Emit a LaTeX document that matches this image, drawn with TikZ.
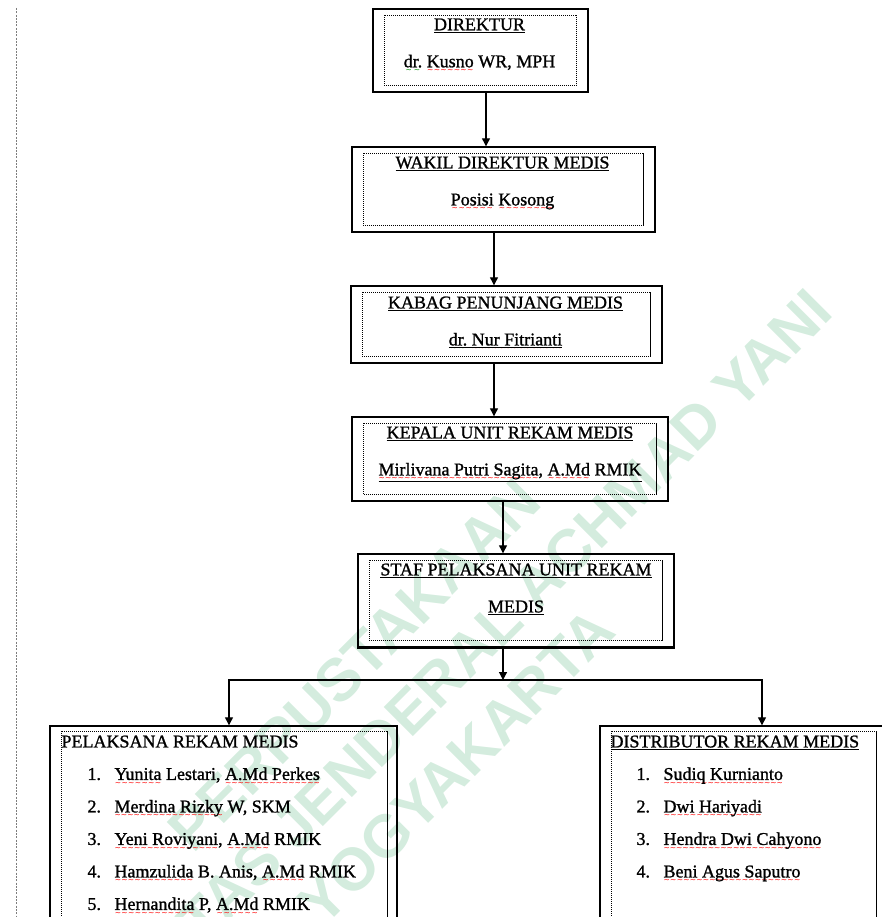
\documentclass[tikz,border=0pt]{standalone}
\usepackage{fontspec}
\setmainfont{Liberation Serif}[FakeBold=1.2]
\newfontfamily\wmfont{Liberation Sans}
\newfontfamily\wavefont{DejaVu Sans}
\usepackage{xcolor}
\usetikzlibrary{arrows.meta, positioning, calc}

\definecolor{wmgreen}{RGB}{212,236,222}
\definecolor{dotgray}{RGB}{125,125,125}

\tikzstyle{orgbox} = [rectangle, draw=black, line width=1.4pt, inner sep=0pt]
\tikzstyle{innerline} = [line width=1pt, dash pattern=on 1.1pt off 0.9pt]
\tikzstyle{boxtext} = [align=center, inner sep=0pt, font=\fontsize{18}{37}\selectfont]
\tikzstyle{listtext} = [align=left, inner sep=0pt, font=\fontsize{18}{32.5}\selectfont]
\tikzstyle{arrow} = [line width=1.2pt, -{Triangle[length=8pt,width=8pt]}]
\tikzstyle{wmark} = [rotate=45, align=center, text=wmgreen, font=\wmfont\bfseries\fontsize{60}{72}\selectfont]

% spelling squiggles
\newcommand\squig[2]{\setbox0\hbox{#2}\leavevmode\rlap{\raisebox{-5.5pt}[0pt][0pt]{\color{#1}\wavefont\fontsize{7.5}{7.5}\selectfont\hbox to\wd0{\xleaders\hbox{\char"223C}\hfill}}}\box0\relax}
\newcommand\rs[1]{\squig{red}{#1}}
\newcommand\gs[1]{\squig{green!55!black}{#1}}
\newcommand\itemno[1]{\hspace*{26pt}\makebox[27pt][l]{#1}}

\begin{document}
\begin{tikzpicture}[x=1pt, y=-1pt]
      \clip (0,0) rectangle (882,917);

      % Watermark
      \node[wmark] (wm) at (405,716) {PERPUSTAKAAN\\UNIVERSITAS JENDERAL ACHMAD YANI\\YOGYAKARTA};

      % Margin line
      \draw[dotgray, line width=1pt, dash pattern=on 2pt off 1.3pt] (16,8) -- (16,917);

      % Boxes
      \node[orgbox, minimum width=215pt, minimum height=83pt] (dir) at (480.5,50.5) {};
      \node[orgbox, minimum width=303pt, minimum height=85pt] (wadir) at (503.5,189.5) {};
      \node[orgbox, minimum width=311pt, minimum height=77pt] (kabag) at (506.5,324.5) {};
      \node[orgbox, minimum width=316pt, minimum height=84pt] (karu) at (510,459) {};
      \node[orgbox, minimum width=316pt, minimum height=93pt] (staf) at (516,600.5) {};
      \node[orgbox, minimum width=347pt, minimum height=214pt] (pel) at (223.5,833) {};
      \node[orgbox, minimum width=286pt, minimum height=214pt] (dist) at (743,833) {};
      \draw[line width=3pt] (staf.south west) -- (staf.south east);

      % Dotted frames
      \foreach \n in {dir,wadir,kabag,karu,staf}
        \draw[innerline] ($(\n.north west)+(12,7)$) rectangle ($(\n.south east)+(-12,-7)$);
      \foreach \n in {pel,dist}
        \draw[innerline] ($(\n.north west)+(12,6)$) rectangle ($(\n.south east)+(-10,-6)$);

      % Box texts
      \node[boxtext, anchor=north] (dirtxt) at ($(dir.north)+(-1,10)$) {\underline{DIREKTUR}\\\gs{dr.} \rs{Kusno} WR, MPH};
      \node[boxtext, anchor=north] (wadirtxt) at ($(wadir.north)+(-1,10)$) {\underline{WAKIL DIREKTUR MEDIS}\\\rs{Posisi} \rs{Kosong}};
      \node[boxtext, anchor=north] (kabagtxt) at ($(kabag.north)+(-1,11)$) {\underline{KABAG PENUNJANG MEDIS}\\\underline{\gs{dr.} \rs{Nur Fitrianti}}};
      \node[boxtext, anchor=north] (karutxt) at ($(karu.north)+(0,10)$) {\underline{KEPALA UNIT REKAM MEDIS}\\\underline{\rs{Mirlivana Putri Sagita}, \rs{A.Md} RMIK}};
      \node[boxtext, anchor=north] (staftxt) at ($(staf.north)+(0,10)$) {\underline{STAF PELAKSANA UNIT REKAM}\\\underline{MEDIS}};

      % Lists
      \node[listtext, anchor=north west] (peltxt) at ($(pel.north west)+(12,10)$) {PELAKSANA REKAM MEDIS\\
        \itemno{1.}\rs{Yunita} Lestari, \rs{A.Md Perkes}\\
        \itemno{2.}\rs{Merdina Rizky} W, SKM\\
        \itemno{3.}\rs{Yeni Roviyani}, \rs{A.Md} RMIK\\
        \itemno{4.}\rs{Hamzulida} B. Anis, \rs{A.Md} RMIK\\
        \itemno{5.}\rs{Hernandita} P, \rs{A.Md} RMIK};
      \node[listtext, anchor=north west] (disttxt) at ($(dist.north west)+(11,10)$) {\underline{DISTRIBUTOR REKAM MEDIS}\\
        \itemno{1.}\rs{Sudiq Kurnianto}\\
        \itemno{2.}\rs{Dwi Hariyadi}\\
        \itemno{3.}\rs{Hendra Dwi Cahyono}\\
        \itemno{4.}\rs{Beni Agus Saputro}};

      % Connectors
      \coordinate (c1) at ($(dir.south)+(5.5,0)$);
      \coordinate (c2) at ($(wadir.south)+(-9.5,0)$);
      \coordinate (c3) at ($(kabag.south)+(-12.5,0)$);
      \coordinate (c4) at ($(karu.south)+(-7,0)$);
      \coordinate (c5) at ($(staf.south)+(-13,0)$);
      \coordinate (split) at (503,680);
      \draw[arrow] (c1) -- (c1 |- wadir.north);
      \draw[arrow] (c2) -- (c2 |- kabag.north);
      \draw[arrow] (c3) -- (c3 |- karu.north);
      \draw[arrow] (c4) -- (c4 |- staf.north);
      \draw[arrow] (c5) -- (split);
      \draw[arrow] (split) -| ($(pel.north)+(5.5,0)$);
      \draw[arrow] (split) -| ($(dist.north)+(19,0)$);
    \end{tikzpicture}
\end{document}
